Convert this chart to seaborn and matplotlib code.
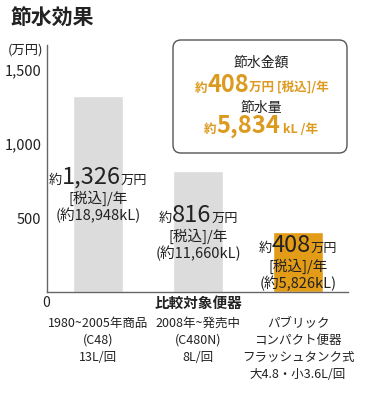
import matplotlib
matplotlib.use('Agg')
import matplotlib.pyplot as plt
import seaborn as sns
from matplotlib.patches import FancyBboxPatch
from matplotlib.transforms import IdentityTransform, blended_transform_factory

# === data ===
categories = ['旧型', '比較対象', 'パブリック']
values = [1326, 816, 408]
bar_colors = ['#dcdcdc', '#dcdcdc', '#e39c17']
tick_labels = ['1980~2005年商品\n(C48)\n13L/回',
               '2008年~発売中\n(C480N)\n8L/回',
               'パブリック\nコンパクト便器\nフラッシュタンク式\n大4.8・小3.6L/回']
amount_labels = ['1,326', '816', '408']
volume_labels = ['(約18,948kL)', '(約11,660kL)', '(約5,826kL)']
yticks = [500, 1000, 1500]
ytick_labels = ['500', '1,000', '1,500']

W, H = 368, 395
ORANGE = '#dc9a1e'
DARK = '#222222'

sns.set_style('white')
plt.rcParams['font.family'] = ['Noto Sans CJK JP', 'DejaVu Sans']

fig = plt.figure(figsize=(W / 100, H / 100), dpi=100)
ax = fig.add_axes([47 / W, (H - 292) / H, (348 - 47) / W, (292 - 45) / H])

sns.barplot(x=categories, y=values, hue=categories, palette=bar_colors,
            width=0.5, legend=False, ax=ax, saturation=1)
ax.set_xlim(-0.51, 2.5)
ax.set_ylim(0, 1670)
ax.set_xlabel('')
ax.set_ylabel('')

for s in ['top', 'right']:
    ax.spines[s].set_visible(False)
for s in ['left', 'bottom']:
    ax.spines[s].set_color('#666666')
    ax.spines[s].set_linewidth(1)

ax.set_yticks(yticks)
ax.set_yticklabels(ytick_labels, fontsize=10.5, color=DARK)
ax.tick_params(axis='y', direction='out', length=3, width=0.8, color='#666666', pad=1)
ax.set_xticks(range(len(categories)))
ax.set_xticklabels(tick_labels, fontsize=9, color=DARK, linespacing=1.4)
ax.tick_params(axis='x', length=0, pad=18)

trans = blended_transform_factory(ax.transData, IdentityTransform())
ax.text(1, H - 303, '比較対象便器', transform=trans, ha='center', va='center',
        fontsize=10.5, fontweight='bold', color=DARK)
fig.text(46, H - 303, '0', transform=IdentityTransform(), ha='center', va='center',
         fontsize=10, color=DARK)
fig.text(8, H - 50, '(万円)', transform=IdentityTransform(), ha='left', va='center',
         fontsize=9.5, color=DARK)
fig.text(10, H - 25, '節水効果', transform=IdentityTransform(), ha='left', va='baseline',
         fontsize=15, fontweight='bold', color=DARK)

renderer = fig.canvas.get_renderer()


def rich_line(xc, y_base, parts, zorder=10):
    # parts: (text, size, weight, color); drawn centred on xc with a shared baseline
    objs = []
    for txt, size, weight, color in parts:
        t = fig.text(0, H - y_base, txt, transform=IdentityTransform(), ha='left',
                     va='baseline', fontsize=size, fontweight=weight, color=color,
                     zorder=zorder)
        objs.append(t)
    widths = [t.get_window_extent(renderer).width for t in objs]
    x = xc - sum(widths) / 2
    for t, w in zip(objs, widths):
        t.set_x(x)
        x += w


# bar labels
bar_x = [98, 198, 298]
base1 = [184, 222, 252]
for xc, b, amt, vol in zip(bar_x, base1, amount_labels, volume_labels):
    rich_line(xc, b, [('約', 9.5, 'normal', DARK), (amt, 17, 'normal', DARK),
                      ('万円', 9.5, 'normal', DARK)])
    rich_line(xc, b + 19, [('[税込]/年', 10.5, 'normal', DARK)])
    rich_line(xc, b + 36, [(vol, 10.5, 'normal', DARK)])

# summary box
box = FancyBboxPatch((173, H - 153), 174, 113, boxstyle='round,pad=0,rounding_size=8',
                     transform=IdentityTransform(), facecolor='white',
                     edgecolor='#555555', linewidth=1, zorder=5)
fig.add_artist(box)
rich_line(261, 67, [('節水金額', 10, 'normal', DARK)])
rich_line(262, 92, [('約', 9, 'bold', ORANGE), ('408', 17, 'bold', ORANGE),
                    ('万円 [税込]/年', 9, 'bold', ORANGE)])
rich_line(261, 112, [('節水量', 10, 'normal', DARK)])
rich_line(261, 133, [('約', 9, 'bold', ORANGE), ('5,834', 17, 'bold', ORANGE),
                     (' kL /年', 9, 'bold', ORANGE)])

fig.savefig('out.png', dpi=100)
